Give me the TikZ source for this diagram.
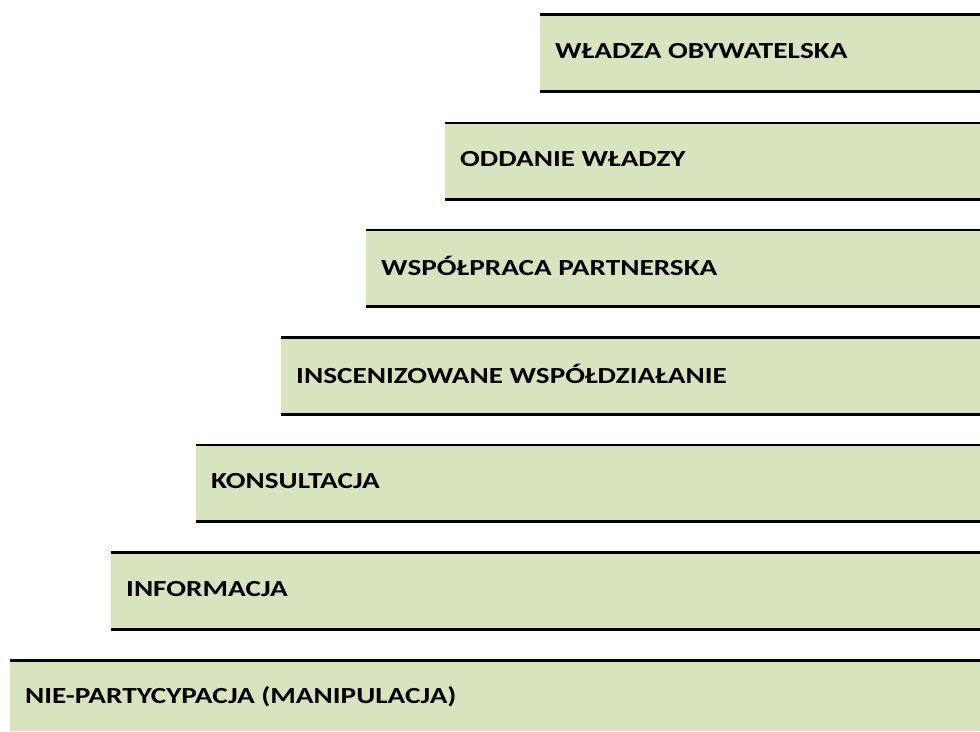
\documentclass[tikz,border=0pt]{standalone}
\usepackage{fontspec}
\setmainfont{Carlito}
\newfontfamily\barfont[FakeStretch=1.27]{Carlito}
\definecolor{barfill}{HTML}{D7E4BD}
\begin{document}
\begin{tikzpicture}[x=1pt,y=-1pt,
  barline/.style={line width=2.6pt,black},
  bartext/.style={anchor=west,inner sep=0pt,font=\barfont\fontsize{23}{27}\selectfont\bfseries}]
\useasboundingbox (0,0) rectangle (980,731);
\def\H{76.6}
\foreach \n/\x/\t/\lab in {
  b1/540/14.7/{WŁADZA OBYWATELSKA},
  b2/445/123/{ODDANIE WŁADZY},
  b3/366/230/{WSPÓŁPRACA PARTNERSKA},
  b4/281/337.7/{INSCENIZOWANE WSPÓŁDZIAŁANIE},
  b5/196/445/{KONSULTACJA},
  b6/111/552.7/{INFORMACJA}}{
  \fill[barfill] (\x,\t) rectangle (980,\t+\H);
  \draw[barline] (\x,\t) -- (980,\t);
  \draw[barline] (\x,\t+\H) -- (980,\t+\H);
  \node[bartext] (\n) at (\x+15,\t+\H/2-2) {\lab};
}
\fill[barfill] (10,660.7) rectangle (980,731);
\draw[barline] (10,660.7) -- (980,660.7);
\node[bartext] (b7) at (25,660.7+\H/2-2) {NIE-PARTYCYPACJA (MANIPULACJA)};
\end{tikzpicture}
\end{document}
